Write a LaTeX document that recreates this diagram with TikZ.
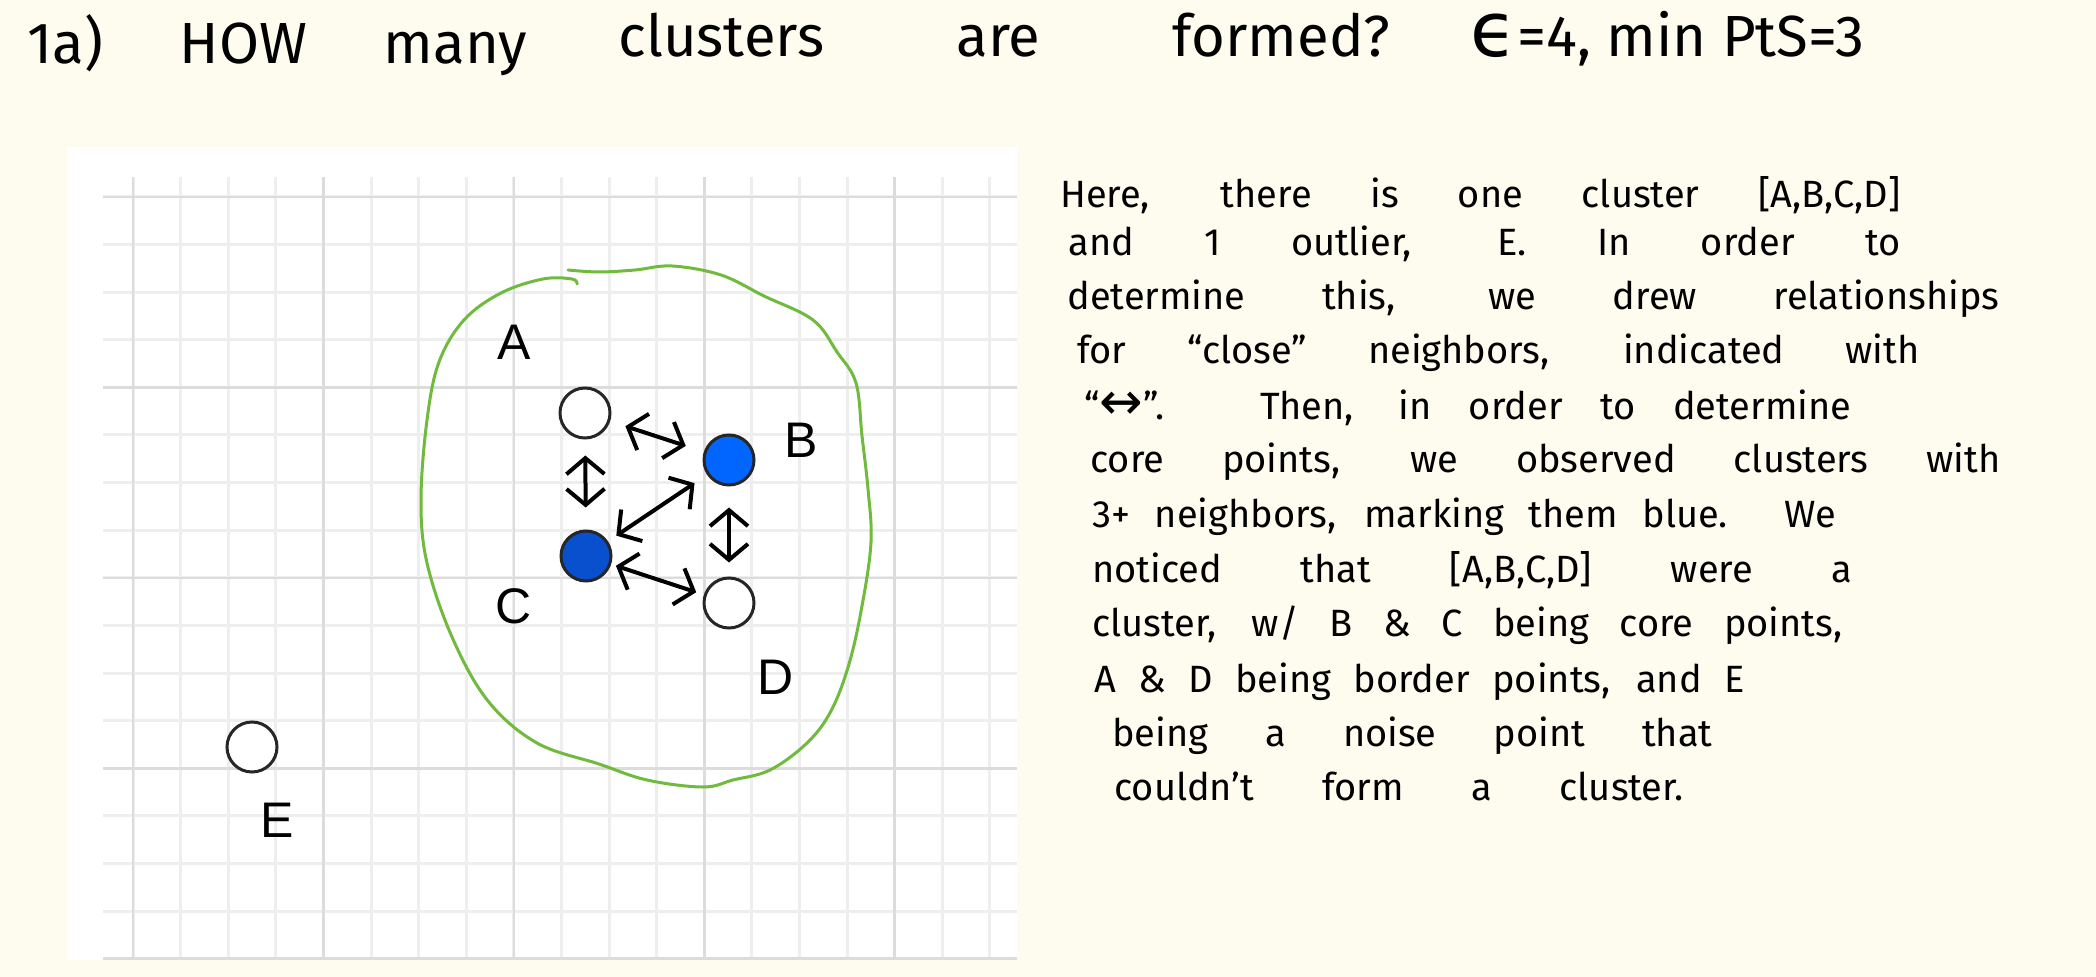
\documentclass[tikz,border=0pt]{standalone}
\usepackage{fontspec}
\setmainfont{Fira Sans}
\newfontfamily\lblfont{Liberation Sans}
\newfontfamily\symfont{DejaVu Sans}
\usetikzlibrary{arrows.meta}
\definecolor{paper}{RGB}{254,252,239}
\definecolor{gridminor}{RGB}{238,238,238}
\definecolor{gridmajor}{RGB}{220,220,220}
\definecolor{coreB}{RGB}{0,102,255}
\definecolor{coreC}{RGB}{8,80,206}
\definecolor{loopgreen}{RGB}{112,186,62}
\newcommand{\spread}[2]{\makebox[#1][s]{#2}}

\begin{document}
\begin{tikzpicture}[x=0.5pt, y=-0.5pt,
  datapt/.style={circle, draw=black!85, line width=1.5pt, minimum size=25pt,
  inner sep=0pt, fill=white},
  lbl/.style={font=\lblfont\fontsize{25}{25}\selectfont, inner sep=0pt},
  hw/.style={anchor=base west, inner sep=0pt, font=\fontsize{19}{22}\selectfont},
  ttl/.style={anchor=base west, inner sep=0pt, font=\fontsize{29}{33}\selectfont},
  nbr/.style={{Straight Barb[length=8pt,width=19pt]}-{Straight Barb[length=8pt,width=19pt]},
  line width=2pt, line cap=round}
]
\useasboundingbox (0,0) rectangle (2096,977);
\fill[paper] (0,0) rectangle (2096,977);

% question
\node[ttl] (ttlA) at (27,64) {\spread{250pt}{1a) HOW many}};
\node[ttl] (ttlB) at (618,57) {\spread{386pt}{clusters are formed?}};
\node[ttl] (param) at (1470,57) {\spread{197pt}{{\symfont\fontsize{38}{38}\selectfont ϵ}=4, min PtS=3}};

% grid sheet
\fill[white] (67,147) rectangle (1017,960);
\foreach \k in {0,...,18}
  \draw[gridminor, line width=1.5pt] ({133+47.6*\k},177) -- ({133+47.6*\k},960);
\foreach \k in {0,...,16}
  \draw[gridminor, line width=1.5pt] (103,{197+47.6*\k}) -- (1017,{197+47.6*\k});
\foreach \k in {0,4,...,16} {
  \draw[gridmajor, line width=1.3pt] ({133+47.6*\k},177) -- ({133+47.6*\k},960);
  \draw[gridmajor, line width=1.3pt] (103,{197+47.6*\k}) -- (1017,{197+47.6*\k});
}

% cluster outline
\draw[loopgreen, line width=1.5pt, line cap=round] plot[smooth, tension=0.6] coordinates {
  (568,270) (599,272) (635,270) (672,266) (721,275) (764,296) (813,320)
  (837,352) (856,383) (862,436) (868,489) (871,542) (862,606) (849,664)
  (831,711) (807,743) (770,770) (733,780) (703,787) (647,780) (599,764)
  (537,743) (488,701) (452,637) (427,563) (421,500) (427,420) (439,362)
  (464,320) (501,293) (543,279) (572,279) (577,284)};

% points
\node[datapt] (A) at (585,413) {};
\node[datapt, fill=coreB] (B) at (729,460) {};
\node[datapt, fill=coreC] (C) at (586,556) {};
\node[datapt] (D) at (729,603) {};
\node[datapt] (E) at (252,747) {};

\node[lbl] (labA) at (514,342) {A};
\node[lbl] (labB) at (801,440) {B};
\node[lbl] (labC) at (514,606) {C};
\node[lbl] (labD) at (776,677) {D};
\node[lbl] (labE) at (277,820) {E};

% neighbour links
\draw[nbr, shorten <=8pt, shorten >=9.5pt] (A) -- (B);
\draw[nbr, shorten <=8pt, shorten >=11pt] (A) -- (C);
\draw[nbr, shorten <=5pt, shorten >=7.5pt] (C) -- (B);
\draw[nbr, shorten <=10.5pt, shorten >=7pt] (B) -- (D);
\draw[nbr, shorten <=2.5pt, shorten >=4pt] (C) -- (D);

% answer
\node[hw] (l1) at (1060,208) {\spread{420pt}{Here, there is one cluster [A,B,C,D]}};
\node[hw] (l2) at (1068,256) {\spread{416pt}{and 1 outlier, E. In order to}};
\node[hw] (l3) at (1067,310) {\spread{466pt}{determine this, we drew relationships}};
\node[hw] (l4) at (1077,364) {\spread{421pt}{for “close” neighbors, indicated with}};
\node[hw] (l5) at (1084,420) {\spread{383.5pt}{“{\symfont\fontsize{26}{26}\selectfont ↔}”. Then, in order to determine}};
\node[hw] (l6) at (1090,473) {\spread{455pt}{core points, we observed clusters with}};
\node[hw] (l7) at (1092,528) {\spread{372pt}{3+ neighbors, marking them blue. We}};
\node[hw] (l8) at (1092,582) {\spread{380pt}{noticed that [A,B,C,D] were a}};
\node[hw] (l9) at (1092,636) {\spread{375pt}{cluster, w/ B \& C being core points,}};
\node[hw] (l10) at (1094,692) {\spread{325pt}{A \& D being border points, and E}};
\node[hw] (l11) at (1112,746) {\spread{300pt}{being a noise point that}};
\node[hw] (l12) at (1114,800) {\spread{284.5pt}{couldn't form a cluster.}};
\end{tikzpicture}
\end{document}
